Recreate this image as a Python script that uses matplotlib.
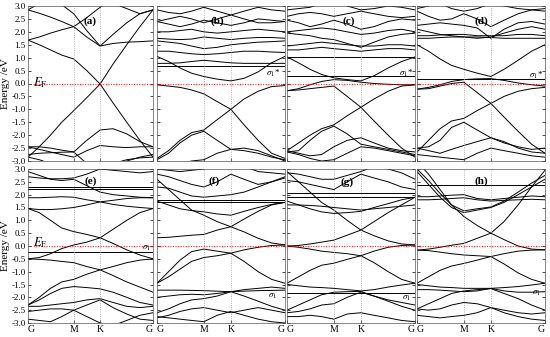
import matplotlib
matplotlib.use("Agg")
import matplotlib.pyplot as plt
import numpy as np

plt.rcParams['font.family'] = ['Liberation Serif', 'DejaVu Serif']
plt.rcParams['mathtext.fontset'] = 'stix'

# k-path nodes (G -> M -> K -> G), fractional distance along the path
k_nodes = [0, 0.09, 0.18, 0.27, 0.366, 0.47, 0.577, 0.68, 0.79, 0.895, 1.0]
k_ticks = [0, 0.366, 0.577, 1.0]
k_labels = ['G', 'M', 'K', 'G']
e_ticks = [-3.0, -2.5, -2.0, -1.5, -1.0, -0.5, 0.0, 0.5, 1.0, 1.5, 2.0, 2.5, 3.0]

# band energies (eV) read at each k node
bands_a = [
    [-2.85, -2.45, -2.0, -1.5, -1.05, -0.55, -0.02, -0.75, -1.5, -2.2, -2.85],
    [1.68, 1.5, 1.3, 1.1, 0.95, 0.5, -0.02, 0.75, 1.5, 2.2, 2.85],
    [1.68, 1.8, 1.95, 2.08, 2.2, 1.8, 1.45, 1.55, 1.6, 1.62, 1.65],
    [2.85, 2.72, 2.57, 2.4, 2.2, 2.55, 2.95, 3.3, 3.5, 3.6, 3.6],
    [2.85, 3.1, 3.4, 3.6, 3.6, 3.5, 3.3, 3.1, 2.9, 2.7, 2.85],
    [3.6, 3.5, 3.3, 3.05, 2.7, 2.05, 1.45, 1.9, 2.35, 2.7, 2.85],
    [-2.45, -2.45, -2.5, -2.58, -2.65, -2.2, -1.8, -1.75, -1.95, -2.25, -2.45],
    [-2.45, -2.55, -2.65, -2.75, -2.85, -2.6, -2.4, -2.45, -2.48, -2.45, -2.45],
    [-2.75, -2.7, -2.68, -2.66, -2.65, -3.1, -3.3, -3.2, -3.0, -2.85, -2.75],
    [-2.85, -2.95, -3.1, -3.3, -3.4, -3.4, -3.3, -3.1, -2.95, -2.88, -2.85],
]
bands_b = [
    [-0.05, -0.1, -0.15, -0.25, -0.4, -0.7, -1.0, -1.6, -2.2, -2.7, -2.9],
    [-2.9, -2.6, -2.2, -1.9, -1.8, -1.4, -1.0, -0.6, -0.3, -0.12, -0.08],
    [-2.95, -2.7, -2.3, -2.0, -1.85, -2.2, -2.55, -2.6, -2.7, -2.85, -2.95],
    [-3.3, -3.2, -3.1, -3.0, -2.95, -2.7, -2.55, -2.5, -2.6, -2.8, -3.0],
    [1.05, 0.85, 0.6, 0.4, 0.27, 0.17, 0.1, 0.2, 0.45, 0.8, 1.05],
    [0.78, 0.78, 0.8, 0.85, 0.9, 0.85, 0.8, 0.78, 0.78, 0.78, 0.78],
    [0.68, 0.68, 0.68, 0.68, 0.68, 0.68, 0.68, 0.68, 0.68, 0.68, 0.68],
    [1.25, 1.25, 1.2, 1.15, 1.12, 1.15, 1.2, 1.25, 1.25, 1.22, 1.2],
    [1.65, 1.6, 1.55, 1.45, 1.35, 1.4, 1.5, 1.55, 1.6, 1.62, 1.65],
    [1.75, 1.72, 1.7, 1.72, 1.8, 1.75, 1.7, 1.75, 1.78, 1.78, 1.75],
    [2.0, 2.0, 2.05, 2.1, 2.0, 1.95, 2.0, 2.05, 2.1, 2.05, 2.0],
    [2.4, 2.3, 2.2, 2.3, 2.45, 2.35, 2.25, 2.35, 2.5, 2.45, 2.4],
    [2.4, 2.5, 2.6, 2.5, 2.35, 2.5, 2.65, 2.5, 2.35, 2.35, 2.4],
    [2.85, 2.75, 2.7, 2.8, 2.95, 2.8, 2.65, 2.8, 2.95, 2.85, 2.8],
]
bands_c = [
    [1.03, 1.03, 1.03, 1.03, 1.03, 1.03, 1.03, 1.03, 1.03, 1.03, 1.03],
    [1.03, 0.8, 0.55, 0.35, 0.22, 0.15, 0.1, 0.3, 0.6, 0.85, 1.03],
    [0.3, 0.3, 0.3, 0.3, 0.3, 0.3, 0.3, 0.3, 0.3, 0.3, 0.3],
    [-0.28, -0.25, -0.2, -0.15, -0.1, -0.5, -0.92, -1.45, -2.0, -2.5, -2.85],
    [-2.6, -2.3, -2.0, -1.75, -1.6, -1.25, -0.92, -0.6, -0.3, -0.1, -0.05],
    [-0.28, -0.2, -0.05, 0.08, 0.15, 0.12, 0.05, 0.0, -0.03, -0.05, -0.05],
    [-2.6, -2.7, -2.8, -2.75, -2.45, -2.2, -2.1, -2.3, -2.5, -2.6, -2.65],
    [-2.65, -2.6, -2.2, -1.85, -1.65, -1.95, -2.35, -2.45, -2.55, -2.65, -2.75],
    [-2.65, -2.75, -2.9, -3.0, -2.95, -2.7, -2.45, -2.5, -2.6, -2.7, -2.8],
    [1.3, 1.3, 1.35, 1.4, 1.35, 1.3, 1.25, 1.3, 1.35, 1.35, 1.3],
    [1.45, 1.5, 1.55, 1.6, 1.55, 1.5, 1.45, 1.45, 1.5, 1.5, 1.45],
    [1.95, 1.9, 1.85, 1.75, 1.7, 1.55, 1.4, 1.6, 1.8, 1.9, 1.95],
    [2.0, 2.05, 2.1, 2.15, 2.1, 2.0, 1.9, 1.95, 2.05, 2.1, 2.0],
    [2.45, 2.35, 2.2, 2.3, 2.45, 2.3, 2.1, 2.2, 2.4, 2.5, 2.45],
    [2.6, 2.7, 2.75, 2.7, 2.6, 2.7, 2.8, 2.7, 2.6, 2.55, 2.6],
    [2.85, 2.9, 2.95, 3.1, 3.2, 3.0, 2.85, 2.9, 3.0, 2.95, 2.85],
]
bands_d = [
    [0.19, 0.19, 0.19, 0.19, 0.19, 0.19, 0.19, 0.19, 0.19, 0.19, 0.19],
    [1.5, 1.25, 0.95, 0.7, 0.55, 0.4, 0.27, 0.55, 0.9, 1.25, 1.5],
    [-0.22, -0.2, -0.1, 0.0, 0.05, -0.35, -0.77, -1.3, -1.85, -2.35, -2.7],
    [-2.65, -2.2, -1.75, -1.45, -1.35, -1.05, -0.77, -0.5, -0.3, -0.2, -0.15],
    [-0.22, -0.15, -0.05, 0.08, 0.15, 0.18, 0.19, 0.12, 0.02, -0.05, -0.1],
    [-2.5, -2.45, -2.2, -1.7, -1.5, -1.8, -2.1, -2.3, -2.45, -2.55, -2.5],
    [-2.5, -2.6, -2.7, -2.55, -2.4, -2.25, -2.1, -2.25, -2.5, -2.65, -2.7],
    [-2.75, -2.8, -2.85, -2.9, -2.95, -2.7, -2.5, -2.6, -2.7, -2.8, -2.85],
    [1.75, 1.75, 1.78, 1.8, 1.8, 1.8, 1.78, 1.75, 1.75, 1.75, 1.75],
    [1.85, 1.85, 1.88, 1.9, 1.9, 1.85, 1.85, 1.85, 1.9, 1.9, 1.85],
    [2.1, 2.0, 1.9, 1.85, 1.8, 1.75, 1.8, 1.95, 2.1, 2.2, 2.1],
    [2.25, 2.3, 2.35, 2.3, 2.25, 2.15, 1.75, 2.1, 2.35, 2.4, 2.3],
    [2.8, 2.6, 2.45, 2.5, 2.7, 2.5, 2.2, 2.45, 2.7, 2.85, 2.8],
    [2.9, 3.0, 3.1, 2.9, 2.8, 2.9, 3.1, 3.0, 2.9, 2.85, 2.9],
]
bands_e = [
    [2.24, 2.24, 2.24, 2.24, 2.24, 2.24, 2.24, 2.24, 2.24, 2.24, 2.24],
    [2.28, 2.28, 2.28, 2.28, 2.28, 2.28, 2.28, 2.28, 2.28, 2.28, 2.28],
    [1.88, 1.88, 1.9, 1.92, 1.9, 1.8, 1.72, 1.78, 1.85, 1.88, 1.88],
    [1.46, 1.42, 1.42, 1.45, 1.5, 1.6, 1.72, 1.62, 1.55, 1.5, 1.46],
    [2.9, 2.75, 2.6, 2.55, 2.6, 2.35, 2.1, 2.0, 1.95, 1.9, 1.88],
    [2.7, 2.65, 2.62, 2.62, 2.65, 2.8, 3.0, 2.95, 2.9, 2.85, 2.9],
    [1.46, 1.3, 1.0, 0.7, 0.56, 0.45, 0.32, 0.1, -0.15, -0.35, -0.5],
    [-0.5, -0.45, -0.3, -0.1, 0.04, 0.15, 0.32, 0.65, 1.0, 1.3, 1.46],
    [-0.25, -0.25, -0.25, -0.25, -0.25, -0.25, -0.25, -0.25, -0.25, -0.25, -0.25],
    [-0.5, -0.52, -0.55, -0.6, -0.65, -0.8, -0.93, -1.15, -1.4, -1.6, -1.8],
    [-2.3, -2.0, -1.65, -1.4, -1.3, -1.1, -0.93, -0.8, -0.65, -0.55, -0.5],
    [-2.3, -2.1, -1.85, -1.65, -1.58, -1.62, -1.67, -1.8, -2.0, -2.2, -2.3],
    [-2.35, -2.35, -2.3, -2.25, -2.2, -2.1, -2.05, -2.2, -2.35, -2.4, -2.35],
    [-2.55, -2.5, -2.45, -2.45, -2.5, -2.3, -2.1, -2.4, -2.65, -2.85, -2.9],
    [-2.85, -2.9, -2.95, -2.75, -2.5, -2.75, -3.0, -3.1, -2.9, -2.7, -2.6],
]
bands_f = [
    [0.32, 0.34, 0.38, 0.42, 0.45, 0.62, 0.75, 0.55, 0.3, 0.12, 0.04],
    [2.6, 2.2, 1.8, 1.4, 1.2, 0.95, 0.75, 1.05, 1.35, 1.6, 1.7],
    [-1.45, -1.0, -0.55, -0.22, -0.12, -0.2, -0.28, -0.6, -1.0, -1.3, -1.45],
    [-1.45, -1.2, -0.9, -0.6, -0.45, -0.38, -0.28, -0.15, -0.05, 0.02, 0.04],
    [-1.72, -1.72, -1.72, -1.73, -1.74, -1.76, -1.78, -1.76, -1.74, -1.73, -1.72],
    [-2.0, -1.95, -1.9, -1.88, -1.9, -1.85, -1.78, -1.95, -2.15, -2.35, -2.5],
    [-2.6, -2.45, -2.25, -2.1, -2.05, -1.95, -1.78, -1.7, -1.65, -1.6, -1.65],
    [-2.8, -2.7, -2.55, -2.45, -2.4, -2.5, -2.6, -2.5, -2.4, -2.5, -2.6],
    [-2.75, -2.8, -2.85, -2.9, -2.95, -2.7, -2.55, -2.7, -2.85, -2.95, -3.0],
    [1.8, 1.8, 1.8, 1.8, 1.8, 1.8, 1.8, 1.8, 1.8, 1.8, 1.8],
    [1.7, 1.7, 1.7, 1.7, 1.7, 1.7, 1.7, 1.7, 1.7, 1.7, 1.7],
    [1.75, 1.6, 1.45, 1.38, 1.33, 1.25, 1.2, 1.35, 1.5, 1.62, 1.7],
    [2.3, 2.25, 2.1, 1.95, 1.9, 1.95, 2.0, 2.1, 2.3, 2.5, 2.7],
    [2.8, 2.7, 2.55, 2.4, 2.3, 2.5, 2.8, 2.6, 2.4, 2.5, 2.65],
    [3.0, 2.95, 2.9, 2.95, 3.0, 3.2, 3.4, 3.1, 2.9, 2.85, 2.8],
]
bands_g = [
    [2.05, 2.05, 2.05, 2.05, 2.05, 2.05, 2.05, 2.05, 2.05, 2.05, 2.05],
    [1.92, 1.92, 1.92, 1.92, 1.92, 1.92, 1.92, 1.92, 1.92, 1.92, 1.92],
    [1.6, 1.6, 1.58, 1.55, 1.5, 1.45, 1.4, 1.45, 1.5, 1.55, 1.6],
    [1.75, 1.6, 1.45, 1.33, 1.27, 1.3, 1.35, 1.5, 1.65, 1.8, 1.9],
    [2.9, 2.5, 2.1, 1.7, 1.4, 1.0, 0.62, 0.4, 0.2, 0.08, 0.04],
    [0.0, 0.02, 0.08, 0.15, 0.23, 0.42, 0.62, 0.95, 1.3, 1.6, 1.9],
    [0.0, -0.05, -0.12, -0.2, -0.25, -0.3, -0.38, -0.65, -1.0, -1.3, -1.45],
    [-1.45, -1.2, -0.95, -0.75, -0.67, -0.52, -0.38, -0.2, -0.05, 0.02, 0.04],
    [-1.5, -1.55, -1.6, -1.62, -1.65, -1.7, -1.75, -1.7, -1.6, -1.52, -1.45],
    [-1.85, -1.85, -1.85, -1.85, -1.85, -1.85, -1.85, -1.85, -1.85, -1.85, -1.85],
    [-2.5, -2.3, -2.1, -1.9, -1.8, -1.78, -1.77, -1.95, -2.1, -2.2, -2.3],
    [-2.6, -2.55, -2.45, -2.3, -2.25, -2.0, -1.8, -1.95, -2.15, -2.35, -2.5],
    [-2.75, -2.75, -2.7, -2.75, -2.85, -2.65, -2.6, -2.7, -2.8, -2.9, -2.95],
    [2.55, 2.5, 2.4, 2.3, 2.2, 2.5, 2.8, 2.65, 2.5, 2.3, 2.2],
    [2.85, 2.8, 2.7, 2.6, 2.6, 2.75, 2.9, 3.1, 3.0, 2.85, 2.6],
]
bands_h = [
    [2.37, 2.37, 2.37, 2.37, 2.37, 2.37, 2.37, 2.37, 2.37, 2.37, 2.37],
    [1.92, 1.92, 1.95, 1.98, 2.0, 1.85, 1.8, 1.85, 1.9, 1.95, 1.92],
    [1.8, 1.8, 1.82, 1.85, 1.88, 1.8, 1.75, 1.78, 1.8, 1.82, 1.8],
    [2.9, 2.4, 1.9, 1.5, 1.3, 1.4, 1.5, 1.7, 2.0, 2.3, 2.6],
    [3.0, 2.55, 2.05, 1.6, 1.37, 1.45, 1.52, 1.75, 2.1, 2.45, 2.75],
    [3.3, 2.8, 2.2, 1.6, 1.15, 0.8, 0.5, 0.25, 0.0, -0.12, -0.15],
    [-0.16, -0.12, -0.05, 0.03, 0.1, 0.3, 0.5, 0.95, 1.6, 2.3, 2.95],
    [-0.16, -0.18, -0.24, -0.3, -0.35, -0.38, -0.41, -0.7, -1.05, -1.3, -1.45],
    [-1.45, -1.2, -0.95, -0.78, -0.68, -0.55, -0.41, -0.3, -0.2, -0.16, -0.15],
    [-1.5, -1.55, -1.6, -1.62, -1.65, -1.65, -1.65, -1.62, -1.58, -1.52, -1.45],
    [-1.7, -1.7, -1.72, -1.75, -1.78, -1.75, -1.65, -1.75, -1.8, -1.8, -1.78],
    [-2.45, -2.25, -2.05, -1.85, -1.75, -1.7, -1.66, -1.85, -2.05, -2.3, -2.5],
    [-2.45, -2.5, -2.45, -2.3, -2.2, -2.25, -2.4, -2.5, -2.6, -2.65, -2.6],
    [-2.7, -2.75, -2.8, -2.75, -2.7, -2.6, -2.4, -2.6, -2.75, -2.85, -2.9],
]

panel_bands = [bands_a, bands_b, bands_c, bands_d, bands_e, bands_f, bands_g, bands_h]
panel_names = ['(a)', '(b)', '(c)', '(d)', '(e)', '(f)', '(g)', '(h)']
name_pos = [(0.5, 2.4), (0.47, 2.4), (0.48, 2.4), (0.5, 2.4),
            (0.5, 2.52), (0.45, 2.52), (0.47, 2.5), (0.5, 2.52)]
sigma_text = [None, r'$\sigma_1$*', r'$\sigma_1$*', r'$\sigma_1$*',
              r'$\sigma_1$', r'$\sigma_1$', r'$\sigma_1$', r'$\sigma_1$']
sigma_pos = [None, (0.91, 0.38), (0.93, 0.38), (0.93, 0.33),
             (0.95, -0.09), (0.9, -1.97), (0.93, -2.03), (0.93, -1.84)]

W, H = 550, 337
fig = plt.figure(figsize=(W / 100, H / 100), dpi=100)
cols = [(28, 153), (157, 285), (287, 415), (417, 545)]
rows = [(6, 161), (169, 323)]

for i in range(8):
    r, c = i // 4, i % 4
    x0, x1 = cols[c]
    y0, y1 = rows[r]
    ax = fig.add_axes([x0 / W, 1 - y1 / H, (x1 - x0) / W, (y1 - y0) / H])
    for band in panel_bands[i]:
        ax.plot(k_nodes, band, color='black', lw=0.7)
    for kx in k_ticks[1:3]:
        ax.axvline(kx, color='#999999', ls=':', lw=0.6)
    ax.axhline(0, color='red', ls=':', lw=0.7)
    ax.set_xlim(0, 1)
    ax.set_ylim(-3, 3)
    ax.set_yticks(e_ticks)
    ax.set_xticks(k_ticks)
    ax.tick_params(direction='in', length=2, width=0.5, labelsize=6.5,
                   right=True, pad=1.5)
    if c == 0:
        ax.set_yticklabels(['%.1f' % t for t in e_ticks])
        ax.set_ylabel('Energy /eV', fontsize=8, labelpad=1)
    else:
        ax.set_yticklabels([])
    if r == 1:
        labs = ax.set_xticklabels(k_labels, fontsize=7)
        labs[0].set_horizontalalignment('left')
        labs[-1].set_horizontalalignment('right')
    else:
        ax.set_xticklabels([])
    for s in ax.spines.values():
        s.set_linewidth(0.5)
        s.set_color('#555555')
    nx, ny = name_pos[i]
    ax.text(nx, ny, panel_names[i], fontsize=8, fontweight='bold',
            ha='center', va='center')
    if sigma_text[i]:
        sx, sy = sigma_pos[i]
        ax.text(sx, sy, sigma_text[i], fontsize=6.5, ha='center', va='center')
    if i == 0:
        ax.text(0.1, 0.05, r'$E_{\rm F}$', fontsize=9, ha='center', va='center')
    if i == 4:
        ax.text(0.1, 0.12, r'$E_{\rm F}$', fontsize=9, ha='center', va='center')

fig.savefig('out.png', dpi=100)
